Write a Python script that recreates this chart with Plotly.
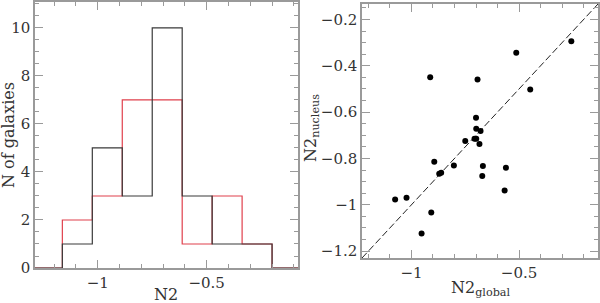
import plotly.graph_objects as go

# histogram of N2 (global = black, nucleus = red)
bin_edges = [-1.1625, -1.025, -0.8875, -0.75, -0.6125, -0.475, -0.3375, -0.2]
counts_global = [1, 5, 3, 10, 3, 1, 1]
counts_nucleus = [2, 3, 7, 7, 1, 3, 1]

# scatter: N2 global vs N2 nucleus
n2_global = [-1.076, -1.023, -0.953, -0.913, -0.908, -0.894, -0.871, -0.862,
             -0.803, -0.750, -0.707, -0.699, -0.700, -0.699, -0.679, -0.684,
             -0.693, -0.668, -0.671, -0.567, -0.561, -0.513, -0.448, -0.257]
n2_nucleus = [-0.977, -0.970, -1.124, -0.449, -1.033, -0.814, -0.866, -0.862,
              -0.830, -0.725, -0.715, -0.715, -0.624, -0.672, -0.681, -0.738,
              -0.459, -0.833, -0.876, -0.938, -0.840, -0.344, -0.502, -0.294]

hist_xrange = [-1.288, -0.081]
hist_yrange = [0, 11.08]
sc_range = [-1.23, -0.133]

FONT = "DejaVu Serif"
FRAME = "#9a9a9a"
W, H = 600, 303


def step(counts):
    xs = [hist_xrange[0]] + bin_edges + [hist_xrange[1]]
    ys = [0] + list(counts) + [0, 0]
    return xs, ys


fig = go.Figure()

xr, yr = step(counts_nucleus)
fig.add_trace(go.Scatter(x=xr, y=yr, mode="lines", line_shape="hv",
                         line=dict(color="#e0404c", width=1.2),
                         xaxis="x", yaxis="y", showlegend=False))
xb, yb = step(counts_global)
fig.add_trace(go.Scatter(x=xb, y=yb, mode="lines", line_shape="hv",
                         line=dict(color="#3a3a3a", width=1.2),
                         xaxis="x", yaxis="y", showlegend=False))

fig.add_trace(go.Scatter(x=sc_range, y=sc_range, mode="lines",
                         line=dict(color="#222", width=1, dash="7px,3px"),
                         xaxis="x2", yaxis="y2", showlegend=False))
fig.add_trace(go.Scatter(x=n2_global, y=n2_nucleus, mode="markers",
                         marker=dict(color="black", size=6),
                         xaxis="x2", yaxis="y2", showlegend=False))

common = dict(showline=True, linecolor=FRAME, linewidth=1.5, mirror="allticks",
              ticks="inside", ticklen=8, tickcolor=FRAME, tickwidth=1.2,
              showgrid=False, zeroline=False, automargin=False,
              tickfont=dict(family=FONT, size=15, color="#333"))

fig.update_layout(
    width=W, height=H,
    margin=dict(l=0, r=0, t=0, b=0),
    plot_bgcolor="white", paper_bgcolor="white",
    xaxis=dict(domain=[35 / W, 298 / W], range=hist_xrange, dtick=0.5, tick0=0,
               minor=dict(dtick=0.1, ticks="inside", ticklen=4, tickcolor=FRAME),
               anchor="y", **common),
    yaxis=dict(domain=[1 - 268 / H, 1 - 2 / H], range=hist_yrange, dtick=2, tick0=0,
               minor=dict(dtick=0.5, ticks="inside", ticklen=4, tickcolor=FRAME),
               anchor="x", **common),
    xaxis2=dict(domain=[362 / W, 598 / W], range=sc_range, dtick=0.5, tick0=0,
                minor=dict(dtick=0.1, ticks="inside", ticklen=4, tickcolor=FRAME),
                anchor="y2", **common),
    yaxis2=dict(domain=[1 - 258 / H, 1 - 4 / H], range=sc_range, dtick=0.2, tick0=0,
                minor=dict(dtick=0.05, ticks="inside", ticklen=4, tickcolor=FRAME),
                anchor="x2", **common),
)

tfont = dict(family=FONT, size=16, color="#333")
titles = [
    ("N2", 166 / W, 1 - 294 / H, 0),
    ("N of galaxies", 9 / W, 1 - 135 / H, -90),
    ("N2<sub>global</sub>", 480 / W, 1 - 288 / H, 0),
    ("N2<sub>nucleus</sub>", 311 / W, 1 - 128 / H, -90),
]
for text, x, y, ang in titles:
    fig.add_annotation(text=text, x=x, y=y, xref="paper", yref="paper",
                       xanchor="center", yanchor="middle", textangle=ang,
                       showarrow=False, font=tfont)

# drop the default page margin so the 600x303 figure fills the window
fig.write_html("out.html", config={"displayModeBar": False},
               post_script="document.body.style.margin='0';")
